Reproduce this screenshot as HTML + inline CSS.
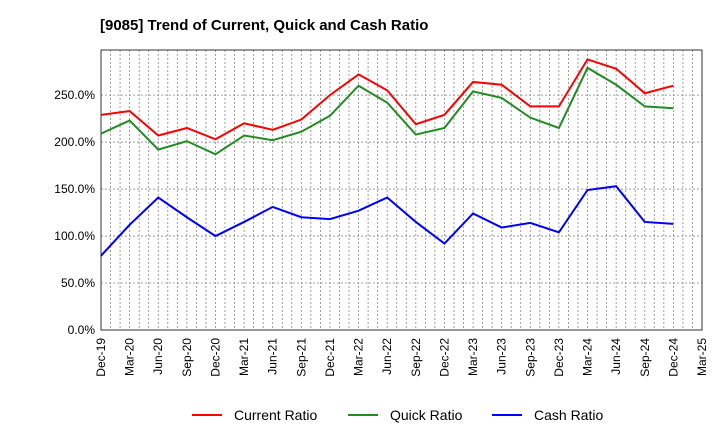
<!DOCTYPE html>
<html><head><meta charset="utf-8"><style>
body{margin:0;background:#fff;font-family:"Liberation Sans",sans-serif}
svg text{font-family:"Liberation Sans",sans-serif}
</style></head><body>
<svg id="c" width="720" height="440">
<text x="100" y="30" font-size="15" font-weight="bold" fill="#000">[9085]  Trend of Current, Quick and Cash Ratio</text>
</svg>
<script>
const categories=["Dec-19","Mar-20","Jun-20","Sep-20","Dec-20","Mar-21","Jun-21","Sep-21","Dec-21","Mar-22","Jun-22","Sep-22","Dec-22","Mar-23","Jun-23","Sep-23","Dec-23","Mar-24","Jun-24","Sep-24","Dec-24","Mar-25"];
const currentRatio=[229,233,207,215,203,220,213,224,250,272,255,219,229,264,261,238,238,288,278,252,260];
const quickRatio=[209,223,192,201,187,207,202,211,228,260,242,208,215,254,247,226,215,279,261,238,236];
const cashRatio=[79,112,141,120,100,115,131,120,118,127,141,115,92,124,109,114,104,149,153,115,113];
const yTicks=[0,50,100,150,200,250];
const yTickLabels=["0.0%","50.0%","100.0%","150.0%","200.0%","250.0%"];
const L=101,R=702,T=50,B=330,YMAX=298;
const NS="http://www.w3.org/2000/svg";
const svg=document.getElementById('c');
const xs=i=>L+(R-L)*i/(categories.length-1);
const ys=v=>B-(B-T)*v/YMAX;
function mk(t,a){const e=document.createElementNS(NS,t);for(const k in a)e.setAttribute(k,a[k]);svg.appendChild(e);return e;}
const months=(categories.length-1)*3;
for(let m=1;m<months;m++){
 const x=L+(R-L)*m/months;
 const g=mk('line',{x1:x,x2:x,y1:T,y2:B,stroke:'#888','stroke-dasharray':'2,2','stroke-width':0.8});
 
 
}
categories.forEach((c,i)=>{
 const x=xs(i);
 const t=mk('text',{x:x+4,y:B+8,'font-size':12,'text-anchor':'end',transform:`rotate(-90 ${x+4} ${B+8})`});
 t.textContent=c;
 
 
});
yTicks.forEach((v,i)=>{
 const y=ys(v);
 if(v>0){const g=mk('line',{x1:L,x2:R,y1:y,y2:y,stroke:'#888','stroke-dasharray':'2,2','stroke-width':0.8});
 
 }
 const t=mk('text',{x:L-6,y:y+4,'font-size':12,'text-anchor':'end'});
 t.textContent=yTickLabels[i];
 
 
});
const frame=mk('rect',{x:L,y:T,width:R-L,height:B-T,fill:'none',stroke:'#333','stroke-width':1});


const series=[[currentRatio,'#ff0000','current-ratio-line'],[quickRatio,'#228b22','quick-ratio-line'],[cashRatio,'#0000ff','cash-ratio-line']];
series.forEach(([d,col,n])=>{
 const p=mk('polyline',{points:d.map((v,i)=>xs(i)+','+ys(v)).join(' '),fill:'none',stroke:col,'stroke-width':2});
 
 
});
const leg=[["Current Ratio",'#ff0000',192],["Quick Ratio",'#228b22',348],["Cash Ratio",'#0000ff',492]];
leg.forEach(([n,col,x])=>{
 const l=mk('line',{x1:x,x2:x+30,y1:415,y2:415,stroke:col,'stroke-width':2});
 
 
 const t=mk('text',{x:x+42,y:420,'font-size':14});
 t.textContent=n;
 
 
});
</script>
</body></html>
